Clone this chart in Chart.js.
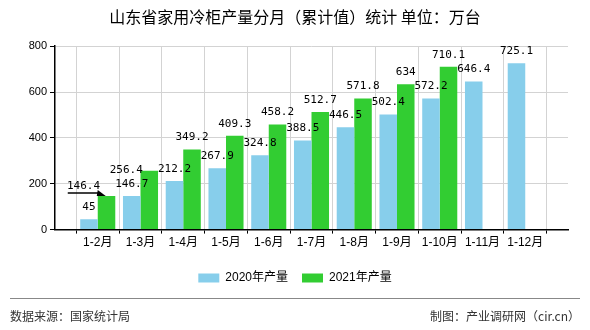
<!DOCTYPE html>
<html>
<head>
<meta charset="utf-8">
<script src="https://cdn.jsdelivr.net/npm/chart.js@4.4.0/dist/chart.umd.min.js"></script>
<style>
  html, body { margin: 0; padding: 0; background: #fff; }
  #wrap { width: 590px; height: 330px; position: relative; }
</style>
</head>
<body>
<div id="wrap"><canvas id="chart"></canvas></div>
<script>
const categories = ['1-2月', '1-3月', '1-4月', '1-5月', '1-6月', '1-7月', '1-8月', '1-9月', '1-10月', '1-11月', '1-12月'];
const values2020 = [45, 146.7, 212.2, 267.9, 324.8, 388.5, 446.5, 502.4, 572.2, 646.4, 725.1];
const values2021 = [146.4, 256.4, 349.2, 409.3, 458.2, 512.7, 571.8, 634, 710.1, null, null];
const yTicks = [0, 200, 400, 600, 800];

// empty slot at both ends so the groups sit on the grid lines
const labels = [''].concat(categories, ['']);
const pad = arr => [null].concat(arr, [null]);

// a few labels were nudged aside in the original to avoid overlap
const labelShift = {
  '1:1': { dx: -23, dy: 2 },
  '1:2': { dx: -23, dy: 11 }
};

const valueLabels = {
  id: 'valueLabels',
  afterDatasetsDraw(chart) {
    const ctx = chart.ctx;
    ctx.save();
    ctx.font = '11px "DejaVu Sans Mono", monospace';
    ctx.fillStyle = '#000';
    ctx.textAlign = 'center';
    ctx.textBaseline = 'middle';
    chart.data.datasets.forEach((ds, di) => {
      chart.getDatasetMeta(di).data.forEach((bar, i) => {
        const v = ds.data[i];
        if (v === null || v === undefined) return;
        const s = labelShift[di + ':' + i] || { dx: 0, dy: 0 };
        ctx.fillText(String(v), bar.x + s.dx, bar.y - 12 + s.dy);
      });
    });
    // arrow pointing at the first 2021 bar
    const b = chart.getDatasetMeta(1).data[1];
    const left = b.x - b.width / 2;
    const yy = b.y - 3;
    ctx.strokeStyle = '#000';
    ctx.lineWidth = 1.5;
    ctx.beginPath();
    ctx.moveTo(left - 30, yy);
    ctx.lineTo(left + 2, yy);
    ctx.stroke();
    ctx.beginPath();
    ctx.moveTo(left + 8, b.y);
    ctx.lineTo(left, b.y - 6);
    ctx.lineTo(left - 1, b.y);
    ctx.closePath();
    ctx.fillStyle = '#000';
    ctx.fill();
    ctx.restore();
  }
};

const footer = {
  id: 'footer',
  afterDraw(chart) {
    const ctx = chart.ctx;
    ctx.save();
    ctx.strokeStyle = '#888';
    ctx.lineWidth = 1;
    ctx.beginPath();
    ctx.moveTo(10, 298.5);
    ctx.lineTo(580, 298.5);
    ctx.stroke();
    ctx.font = '12px "Noto Sans CJK SC", sans-serif';
    ctx.fillStyle = '#333';
    ctx.textBaseline = 'middle';
    ctx.textAlign = 'left';
    ctx.fillText('数据来源：国家统计局', 10, 316);
    ctx.textAlign = 'right';
    ctx.fillText('制图：产业调研网（cir.cn）', 580, 316);
    ctx.restore();
  }
};

new Chart(document.getElementById('chart'), {
  type: 'bar',
  data: {
    labels: labels,
    datasets: [
      { label: '2020年产量', data: pad(values2020), backgroundColor: '#87CEEB' },
      { label: '2021年产量', data: pad(values2021), backgroundColor: '#32CD32' }
    ]
  },
  options: {
    responsive: true,
    maintainAspectRatio: false,
    animation: false,
    layout: { padding: { left: 0, right: 0, top: 0, bottom: 36 } },
    datasets: { bar: { categoryPercentage: 0.82, barPercentage: 1 } },
    plugins: {
      title: {
        display: true,
        text: '山东省家用冷柜产量分月（累计值）统计 单位：万台',
        color: '#000',
        font: { size: 16, weight: 'normal', family: '"Noto Sans CJK SC", sans-serif' },
        padding: { top: 7, bottom: 20 }
      },
      legend: {
        position: 'bottom',
        labels: {
          boxWidth: 21,
          boxHeight: 9,
          color: '#000',
          padding: 14,
          font: { size: 12, family: '"Liberation Sans", "Noto Sans CJK SC", sans-serif' }
        }
      },
      tooltip: { enabled: false }
    },
    scales: {
      x: {
        offset: false,
        afterFit(scale) { scale.height += 6; },
        grid: { color: '#d3d3d3', tickColor: '#000', tickLength: 4 },
        border: { color: '#000', width: 1.5 },
        ticks: {
          color: '#000',
          padding: 2,
          maxRotation: 0,
          autoSkip: false,
          font: { size: 12, family: '"Liberation Sans", "Noto Sans CJK SC", sans-serif' }
        }
      },
      y: {
        min: 0,
        max: 800,
        afterFit(scale) { scale.width = 55; },
        afterBuildTicks(scale) { scale.ticks = yTicks.map(v => ({ value: v })); },
        grid: { color: '#d3d3d3', tickColor: '#000', tickLength: 5 },
        border: { color: '#000', width: 1.5 },
        ticks: {
          color: '#000',
          padding: 3,
          font: { size: 11, family: '"Liberation Sans", sans-serif' }
        }
      },
      // empty right-hand gutter, keeps the title and legend centred on the page
      gutter: {
        position: 'right',
        afterFit(scale) { scale.width = 22; },
        grid: { display: false },
        border: { display: false },
        ticks: { display: false }
      }
    }
  },
  plugins: [valueLabels, footer]
});
</script>
</body>
</html>
